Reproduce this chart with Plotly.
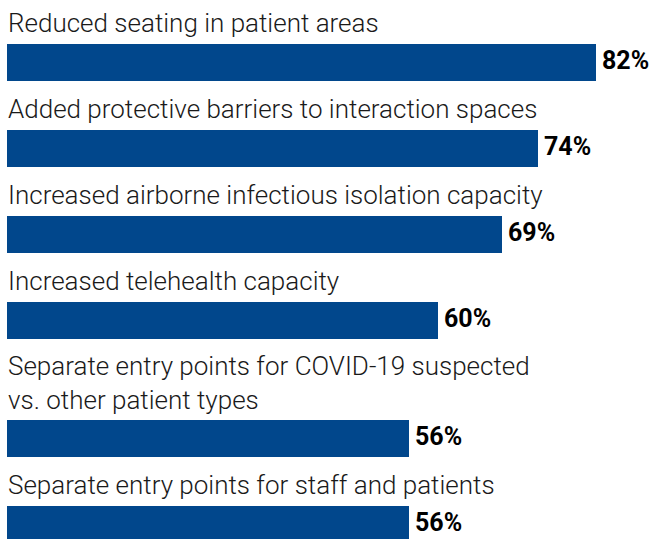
import plotly.graph_objects as go

categories = [
    "Reduced seating in patient areas",
    "Added protective barriers to interaction spaces",
    "Increased airborne infectious isolation capacity",
    "Increased telehealth capacity",
    "Separate entry points for COVID-19 suspected<br>vs. other patient types",
    "Separate entry points for staff and patients",
]
values = [82, 74, 69, 60, 56, 56]
value_labels = [f"{v}%" for v in values]

BAR_COLOR = "#01478c"
W, H = 655, 539

# vertical layout (pixel units on a reversed y axis)
FIRST_LABEL = 23
LINE = 32
LABEL_TO_BAR = 21
BAR = 37
GAP = 28

bar_centers = []
label_mids = []
y = FIRST_LABEL
for c in categories:
    n = c.count("<br>") + 1
    last = y + (n - 1) * LINE
    label_mids.append((y + last) / 2)
    top = last + LABEL_TO_BAR
    bar_centers.append(top + BAR / 2)
    y = top + BAR + GAP

PX_PER_UNIT = 7.18
LEFT = 7

fig = go.Figure(
    go.Bar(
        x=values,
        y=bar_centers,
        orientation="h",
        width=BAR,
        marker=dict(color=BAR_COLOR, line=dict(width=0)),
        hoverinfo="skip",
    )
)

annotations = []
for c, ym in zip(categories, label_mids):
    annotations.append(dict(
        x=0, xref="paper", xanchor="left", xshift=6,
        y=ym, yref="y", yanchor="middle",
        text=c, showarrow=False, align="left",
        font=dict(family="Roboto", size=26, color="#1a1a1a", weight=300),
    ))
for v, lab, yc in zip(values, value_labels, bar_centers):
    annotations.append(dict(
        x=v, xref="x", xanchor="left", xshift=4, yshift=2,
        y=yc, yref="y", yanchor="middle",
        text=lab, showarrow=False,
        font=dict(family="Roboto", size=25, color="#000000", weight=700),
    ))

fig.update_layout(
    width=W, height=H,
    margin=dict(l=0, r=0, t=0, b=0),
    paper_bgcolor="white", plot_bgcolor="white",
    showlegend=False,
    xaxis=dict(visible=False, range=[-LEFT / PX_PER_UNIT, (W - LEFT) / PX_PER_UNIT], fixedrange=True),
    yaxis=dict(visible=False, range=[H, 0], fixedrange=True),
    annotations=annotations,
    bargap=0,
)

fig.write_html(
    "out.html",
    config={"displayModeBar": False},
    post_script="document.body.style.margin='0';document.body.style.padding='0';",
)
